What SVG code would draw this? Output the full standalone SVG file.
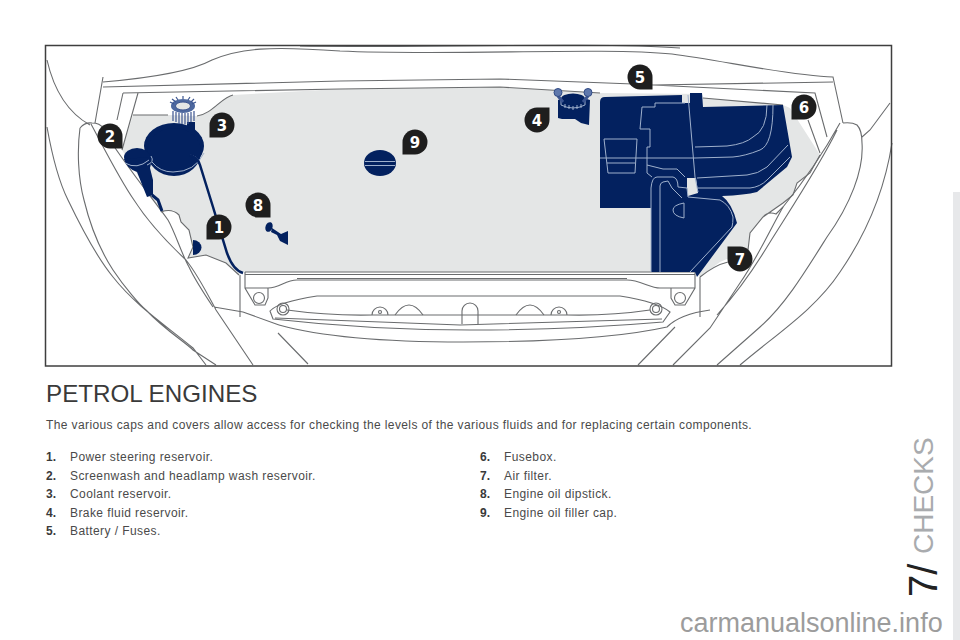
<svg xmlns="http://www.w3.org/2000/svg" width="960" height="640" viewBox="0 0 960 640">
<style>
.l{fill:none;stroke:#6a6c6e;stroke-width:1.100}
.b{fill:#03215f}
.h{fill:none;stroke:#9fb0cc;stroke-width:1}
.c{fill:none;stroke:#3c5590;stroke-width:1.200}
.pin{fill:#1e1e1e}
.num{font:bold 15px "DejaVu Sans",sans-serif;fill:#fff;text-anchor:middle}
.t{font:12px "Liberation Sans",Arial,sans-serif;fill:#4a4a4a;letter-spacing:.42px}
.n{font:bold 12px "Liberation Sans",Arial,sans-serif;fill:#3a3a3a}
</style>
<defs><path id="pin" class="pin" d="M-12.500 12.500V0A12.500 12.500 0 1 1 0 12.500Z"/></defs>
<rect width="960" height="640" fill="#fff"/>
<rect x="953" y="192" width="7" height="448" fill="#e7e8ea"/>

<g id="engine-bay">
<path d="M133 115H168L197 116C212 114 222 97 233 95L340 89L500 87L600 93L702 94L703 98L783 105L790 108L815 147L820 155L810 173L797 183L793 195L783 203L763 217L750 233L748 250L720 262L700 277L695 272H243L239 275Q232 268 226 263L206 255L188 258L193 247L189 230L181 222L179 215L173 210L161 212L122 150Z" fill="#e4e6e6"/>
<path class="l" d="M47 60C55 95 72 115 90 125M47 127C52 155 58 180 68 200C80 225 95 255 113 277C135 305 165 325 193 348L206 365M80 128C77 150 78 178 84 200C90 225 100 250 113 270C125 288 140 305 146 310C165 330 185 342 193 350L216 365M80 128Q85 122 92 123Q100 123 103 128M91 124C105 150 120 180 134 200C150 225 170 245 186 260C198 275 208 295 216 310L253 365M102 128C125 165 150 195 168 220C175 232 182 255 189 267C195 280 205 295 213 307M214 307L243 312L279 325"/>
<path class="l" d="M103 77L95 123M103 82C150 78 190 72 212 60C240 48 270 46 340 51C450 56 600 47 672 54C720 60 790 76 833 77L843 123M300 46C400 48 600 42 680 48M103 87L340 81L500 79L633 84L653 85L833 82M123 93L340 89L500 87L600 93M653 85L815 93L827 137M703 98L783 105M123 93L117 120M138 93L122 150M133 115H168M197 116C212 114 222 97 233 95M808 120L820 153"/>
<path class="l" d="M843 123Q852 122 857 125Q862 130 862 143C864 170 850 205 827 237C805 272 785 305 760 327L717 365M837 130C820 165 790 210 767 247C750 275 735 295 717 315M840 123C825 150 805 180 783 207C770 230 755 262 740 283L710 328L673 365M892 143C884 195 862 240 840 272C815 310 775 335 740 365M890 103L870 130L862 137M638 365L675 327"/>
<path class="l" d="M161 212Q172 208 179 215L181 222L189 230L193 247L188 258L206 255L226 263L239 275M240 275V317M820 155L810 173L797 183L793 195L783 203L763 217L750 233L748 250M763 217Q768 211 776 214L783 207M700 277Q715 265 728 262M700 277V317"/>
<path class="l" d="M245 272H695M245 274.500H695M245 272V288L255 305H265L268 298V288M297 280H627M297 278.500H627M245 288H268C280 288 285 280 297 280M627 280C640 280 650 288 660 288H695M695 272V288L685 305H675L671 298V288"/>
<circle class="l" cx="259" cy="298" r="5.500"/><circle class="l" cx="680" cy="298" r="5.500"/>
<path class="l" d="M270 311Q278 302 317 296H620Q658 302 670 312L663 322Q570 330 470 330Q370 330 273 319ZM287 310Q330 316 373 315H567Q610 316 650 310M275 318L460 325L662 319M279 325Q340 342 463 342Q600 342 667 327Q680 314 710 310M278 333L308 364"/>
<circle class="l" cx="283" cy="309" r="6"/><circle class="l" cx="283" cy="309" r="3.500"/><circle class="l" cx="656" cy="309" r="6"/><circle class="l" cx="656" cy="309" r="3.500"/>
<path class="l" d="M372 315A8 8 0 0 1 388 315M395 315Q409 295 423 315M516 315Q530 295 544 315M551 315A8 8 0 0 1 567 315M462 324V311A8 8 0 0 1 478 311V324"/>
<circle class="l" cx="380" cy="312" r="1.500"/><circle class="l" cx="559" cy="312" r="1.500"/>

<path class="b" d="M600 102Q600 97 605 97L682 95V103H690V93H702L703 107L783 105L792 157L787 167L757 192Q745 195 722 196Q732 203 737 223L697 277L695 272H651V208H600Z"/>
<path fill="#e4e6e6" d="M682 95H690V103H682ZM687 178H696L698 193L688 196L687 188Z"/>
<path class="h" d="M688 95L695 177L698 192M600 158H695L733 157Q745 156 760 150Q773 145 773 105M695 147L727 146Q745 144 753 137Q767 130 767 105M697 178L747 175Q758 174 767 167L788 145M698 188H750Q760 187 767 180L790 157M655 103V107H642L640 129H650V147H647V173L652 177M655 103L685 103M647 165L663 169H677L685 177M604 139H637L635 173H608ZM607 163H635M651 272V188Q652 177 657 177H673Q678 178 678 187L687 188L688 197L720 200Q730 205 733 217Q733 223 732 227L690 272M660 272V186Q660 183 663 182L668 181L672 188L682 198M684 203Q673 205 673 210Q673 216 684 218Z"/>

<ellipse class="b" cx="174" cy="146" rx="30" ry="23"/><ellipse class="b" cx="174" cy="152" rx="27" ry="24"/>
<path class="h" d="M152 162Q160 172 173 172Q195 172 204 153M190 155Q197 156 200 163"/>
<path d="M190 155Q198 158 200 165L213 207L227 253Q233 270 243 273" fill="none" stroke="#03215f" stroke-width="2.500"/>
<path class="b" d="M187 122H195V130H187Z"/>
<g id="cap3">
<ellipse cx="183" cy="106" rx="12" ry="7" fill="#4d689f"/>
<ellipse cx="183" cy="106" rx="7.500" ry="4" fill="#e4e6e6" stroke="#3c5590"/>
<path class="c" d="M173 111V121M176 112V122M179 113V124M182 113V124M185 113V124M188 113V124M191 112V122M194 111V121M170 102L174 104M172 99L176 102M176 97L178 100M183 96V99M190 97L188 100M194 99L191 102M196 102L192 104"/>
</g>
<ellipse class="b" cx="137" cy="157" rx="13" ry="9"/>
<path class="b" d="M124 159Q126 168 137 172L147 197L153 195V180L150 168Q152 162 150 157Z"/>
<path class="h" d="M125 163Q137 170 149 160M147 165Q155 162 151 156"/>
<path d="M152 195L158 200L162 211" fill="none" stroke="#03215f" stroke-width="3"/>
<path class="b" d="M193 240A8.500 7.500 0 1 1 193 255Z"/>
<ellipse class="b" cx="269" cy="227" rx="3.500" ry="5" transform="rotate(20 269 227)"/>
<path class="b" d="M272 228L281 234L288 231V245L280 241L277 235L271 232Z"/>
<ellipse class="b" cx="380" cy="163" rx="16" ry="13"/>
<path class="h" d="M365 161.500H395M365 165.500H395"/>
<g id="cap4">
<path class="b" d="M558 100L566 97H580L590 100L589 125L581 123L575 119H562L558 118Z"/>
<ellipse cx="573" cy="99" rx="12" ry="5.500" fill="#03215f"/>
<path class="h" d="M561 101V105Q573 111 585 105V101M565 104V108M569 105V109M573 106V110M577 105V109M581 104V108"/>
<path d="M558 96L563 102M588 96L583 102" stroke="#3c5590" stroke-width="3"/>
<circle cx="558" cy="92.500" r="4" fill="#5f78ac" stroke="#2f4a85"/><circle cx="588" cy="92.500" r="4" fill="#5f78ac" stroke="#2f4a85"/>
</g>
</g>

<rect x="45.500" y="45.500" width="846" height="320.500" fill="none" stroke="#3f3f3f" stroke-width="1.500"/>

<g id="callout-1"><use href="#pin" x="219" y="227"/><text class="num" x="219" y="232.500">1</text></g>
<g id="callout-2"><use href="#pin" transform="translate(110 136) rotate(-90)"/><text class="num" x="110" y="141.500">2</text></g>
<g id="callout-3"><use href="#pin" x="222" y="125"/><text class="num" x="222" y="130.500">3</text></g>
<g id="callout-4"><use href="#pin" transform="translate(537 120) rotate(180)"/><text class="num" x="537" y="125.500">4</text></g>
<g id="callout-5"><use href="#pin" transform="translate(640 77) rotate(-90)"/><text class="num" x="640" y="82.500">5</text></g>
<g id="callout-6"><use href="#pin" x="804" y="107"/><text class="num" x="804" y="112.500">6</text></g>
<g id="callout-7"><use href="#pin" transform="translate(740 259) rotate(90)"/><text class="num" x="740" y="264.500">7</text></g>
<g id="callout-8"><use href="#pin" transform="translate(258 205) rotate(-90)"/><text class="num" x="258" y="210.500">8</text></g>
<g id="callout-9"><use href="#pin" x="415" y="142"/><text class="num" x="415" y="147.500">9</text></g>

<g id="text">
<text x="46" y="402" font-family="'Liberation Sans',Arial,sans-serif" font-size="24.200" fill="#3a3a3a">PETROL ENGINES</text>
<text class="t" x="46" y="428.500" style="letter-spacing:.39px">The various caps and covers allow access for checking the levels of the various fluids and for replacing certain components.</text>
<text class="n" x="46" y="461">1.</text><text class="t" x="70" y="461">Power steering reservoir.</text>
<text class="n" x="46" y="480">2.</text><text class="t" x="70" y="480">Screenwash and headlamp wash reservoir.</text>
<text class="n" x="46" y="498">3.</text><text class="t" x="70" y="498">Coolant reservoir.</text>
<text class="n" x="46" y="516.500">4.</text><text class="t" x="70" y="516.500">Brake fluid reservoir.</text>
<text class="n" x="46" y="535">5.</text><text class="t" x="70" y="535">Battery / Fuses.</text>
<text class="n" x="480" y="461">6.</text><text class="t" x="504" y="461">Fusebox.</text>
<text class="n" x="480" y="480">7.</text><text class="t" x="504" y="480">Air filter.</text>
<text class="n" x="480" y="498">8.</text><text class="t" x="504" y="498">Engine oil dipstick.</text>
<text class="n" x="480" y="516.500">9.</text><text class="t" x="504" y="516.500">Engine oil filler cap.</text>
<text transform="translate(933 554) rotate(-90)" font-family="'Liberation Sans',Arial,sans-serif" font-size="28" fill="#a9abae">CHECKS</text>
<text transform="translate(937 597) rotate(-90)" font-family="'Liberation Sans',Arial,sans-serif" font-size="40" fill="#222">7/</text>
<text x="680" y="632" font-family="'Liberation Sans',Arial,sans-serif" font-size="27" fill="#9c9c9c">carmanualsonline.info</text>
</g>
</svg>
